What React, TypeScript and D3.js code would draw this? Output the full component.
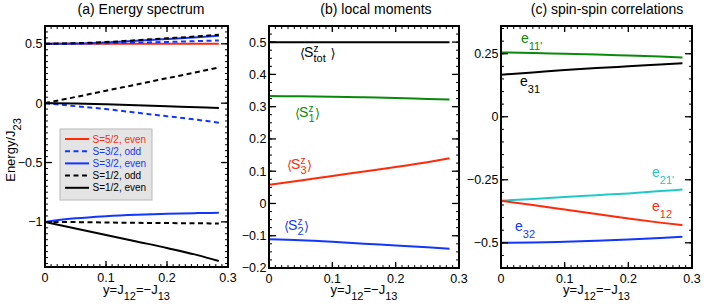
import * as d3 from "d3";
import React from "react";

// shared x grid (y = J12 = -J13)
const xs = [0, 0.05, 0.1, 0.15, 0.2, 0.25, 0.285];

// (a) energy spectrum
const s52even = [0.5, 0.5, 0.5, 0.5, 0.5, 0.5, 0.5];
const s32oddUp = [0.5, 0.501, 0.505, 0.51, 0.516, 0.523, 0.528];
const s32oddLow = [0, -0.025, -0.05, -0.08, -0.11, -0.14, -0.165];
const s32evenUp = [0.5, 0.503, 0.512, 0.525, 0.54, 0.556, 0.568];
const s32evenLow = [-1, -0.97, -0.952, -0.94, -0.932, -0.926, -0.923];
const s12oddUp = [0.5, 0.505, 0.515, 0.53, 0.546, 0.563, 0.577];
const s12oddMid = [0, 0.052, 0.105, 0.157, 0.21, 0.263, 0.3];
const s12oddLow = [-1, -1.002, -1.005, -1.008, -1.01, -1.012, -1.013];
const s12evenMid = [0, -0.003, -0.01, -0.018, -0.026, -0.034, -0.04];
const s12evenLow = [-1, -1.055, -1.11, -1.165, -1.22, -1.28, -1.33];

// (b) local moments
const sTot = [0.5, 0.5, 0.5, 0.5, 0.5, 0.5, 0.5];
const s1 = [0.333, 0.332, 0.331, 0.329, 0.327, 0.324, 0.322];
const s3 = [0.058, 0.071, 0.085, 0.099, 0.113, 0.128, 0.14];
const s2 = [-0.111, -0.114, -0.119, -0.125, -0.13, -0.136, -0.14];

// (c) spin-spin correlations
const e11p = [0.255, 0.253, 0.25, 0.247, 0.243, 0.239, 0.235];
const e31 = [0.167, 0.176, 0.185, 0.193, 0.2, 0.207, 0.212];
const e21p = [-0.333, -0.326, -0.318, -0.311, -0.304, -0.295, -0.289];
const e12 = [-0.333, -0.35, -0.368, -0.386, -0.404, -0.42, -0.43];
const e32 = [-0.5, -0.499, -0.496, -0.492, -0.487, -0.481, -0.476];

// ticks
const xTicks = [0, 0.1, 0.2, 0.3];
const yTicksA = [-1, -0.5, 0, 0.5];
const yTicksB = [-0.2, -0.1, 0, 0.1, 0.2, 0.3, 0.4, 0.5];
const yTicksC = [-0.5, -0.25, 0, 0.25];

const legendLabels = ["S=5/2, even", "S=3/2, odd", "S=3/2, even", "S=1/2, odd", "S=1/2, even"];

const RED = "#ff2a0a";
const BLUE = "#1236ff";
const GREEN = "#0a8a0a";
const CYAN = "#22c8c8";
const FONT = "'Liberation Sans', Arial, Helvetica, sans-serif";
const DASH = "5,3.5";
const MINUS = "\u2212";

const fmt = (v: number) => String(v).replace("-", MINUS);

type PanelProps = {
  left: number;
  right: number;
  top: number;
  bottom: number;
  yDomain: [number, number];
  yTicks: number[];
  yMinor: number;
  title: string;
  titleX: number;
  series: { ys: number[]; color: string; dash?: string }[];
  children?: React.ReactNode;
};

const Panel = (p: PanelProps) => {
  const x = d3.scaleLinear().domain([0, 0.3]).range([p.left, p.right]);
  const y = d3.scaleLinear().domain(p.yDomain).range([p.bottom, p.top]);
  const line = d3
    .line<number>()
    .x((_, i) => x(xs[i]))
    .y((d) => y(d))
    .curve(d3.curveMonotoneX);

  const xMinor = d3.range(0, 0.3001, 0.01);
  const yStart = Math.ceil(p.yDomain[0] / p.yMinor) * p.yMinor;
  const yMinor = d3.range(yStart, p.yDomain[1] + 1e-9, p.yMinor);
  const cx = (p.left + p.right) / 2;

  return (
    <g>
      <defs>
        <clipPath id={`clip-${p.left}`}>
          <rect x={p.left} y={p.top} width={p.right - p.left} height={p.bottom - p.top} />
        </clipPath>
      </defs>
      <text x={p.titleX} y={14} textAnchor="middle" fontSize={14}>
        {p.title}
      </text>
      <g clipPath={`url(#clip-${p.left})`}>
        {p.series.map((s, i) => (
          <path
            key={i}
            d={line(s.ys) || ""}
            fill="none"
            stroke={s.color}
            strokeWidth={2}
            strokeDasharray={s.dash}
          />
        ))}
      </g>
      {/* minor ticks */}
      {xMinor.map((v, i) => (
        <g key={`xm${i}`} stroke="#000" strokeWidth={1}>
          <line x1={x(v)} x2={x(v)} y1={p.bottom} y2={p.bottom - 3} />
          <line x1={x(v)} x2={x(v)} y1={p.top} y2={p.top + 3} />
        </g>
      ))}
      {yMinor.map((v, i) => (
        <g key={`ym${i}`} stroke="#000" strokeWidth={1}>
          <line x1={p.left} x2={p.left + 3} y1={y(v)} y2={y(v)} />
          <line x1={p.right} x2={p.right - 3} y1={y(v)} y2={y(v)} />
        </g>
      ))}
      {/* major ticks */}
      {xTicks.map((v) => (
        <g key={`x${v}`}>
          <line x1={x(v)} x2={x(v)} y1={p.bottom} y2={p.bottom - 6} stroke="#000" strokeWidth={1.3} />
          <line x1={x(v)} x2={x(v)} y1={p.top} y2={p.top + 6} stroke="#000" strokeWidth={1.3} />
          <text x={x(v)} y={p.bottom + 15} textAnchor="middle" fontSize={12.5}>
            {fmt(v)}
          </text>
        </g>
      ))}
      {p.yTicks.map((v) => (
        <g key={`y${v}`}>
          <line x1={p.left} x2={p.left + 7} y1={y(v)} y2={y(v)} stroke="#000" strokeWidth={1.3} />
          <line x1={p.right} x2={p.right - 7} y1={y(v)} y2={y(v)} stroke="#000" strokeWidth={1.3} />
          <text x={p.left - 2.5} y={y(v)} dy="0.35em" textAnchor="end" fontSize={12.5}>
            {fmt(v)}
          </text>
        </g>
      ))}
      <rect
        x={p.left}
        y={p.top}
        width={p.right - p.left}
        height={p.bottom - p.top}
        fill="none"
        stroke="#000"
        strokeWidth={2}
      />
      {/* x-axis label */}
      <text x={cx} y={294} textAnchor="middle" fontSize={13}>
        {"y=J"}
        <tspan dy={6} fontSize={11}>12</tspan>
        <tspan dy={-6}>{`=${MINUS}J`}</tspan>
        <tspan dy={6} fontSize={11}>13</tspan>
      </text>
      {p.children}
    </g>
  );
};

const Moment = ({ x, y, sub, color, subW }: { x: number; y: number; sub: string; color: string; subW: number }) => (
  <g fill={color} fontSize={14}>
    <text x={x} y={y + 1} fontSize={13} fontFamily="'DejaVu Sans', sans-serif">
      {"\u27e8"}
    </text>
    <text x={x + 4} y={y}>
      S
    </text>
    <text x={x + 13.5} y={y - 5} fontSize={10}>
      z
    </text>
    <text x={x + 13.5} y={y + 5} fontSize={11}>
      {sub}
    </text>
    <text x={x + 13.5 + subW} y={y + 1} fontSize={13} fontFamily="'DejaVu Sans', sans-serif">
      {"\u27e9"}
    </text>
  </g>
);

const Corr = ({ x, y, sub, color }: { x: number; y: number; sub: string; color: string }) => (
  <text x={x} y={y} fill={color} fontSize={14}>
    e
    <tspan dy={7} fontSize={11}>
      {sub}
    </tspan>
  </text>
);

const legendItems = [
  { color: RED, dash: undefined },
  { color: BLUE, dash: DASH },
  { color: BLUE, dash: undefined },
  { color: "#000", dash: DASH },
  { color: "#000", dash: undefined },
];

const App = () => (
  <svg
    width={706}
    height={304}
    style={{ position: "absolute", left: 0, top: 0, background: "#fff", fontFamily: FONT }}
  >
    <Panel
      left={45}
      right={228}
      top={26}
      bottom={267}
      yDomain={[-1.38, 0.65]}
      yTicks={yTicksA}
      yMinor={0.05}
      title="(a) Energy spectrum"
      titleX={141}
      series={[
        { ys: s52even, color: RED },
        { ys: s32evenUp, color: BLUE },
        { ys: s32oddUp, color: BLUE, dash: DASH },
        { ys: s12oddUp, color: "#000", dash: DASH },
        { ys: s12oddMid, color: "#000", dash: DASH },
        { ys: s32oddLow, color: BLUE, dash: DASH },
        { ys: s12evenMid, color: "#000" },
        { ys: s12oddLow, color: "#000", dash: DASH },
        { ys: s32evenLow, color: BLUE },
        { ys: s12evenLow, color: "#000" },
      ]}
    >
      <g>
        <rect x={60} y={129} width={92} height={71} fill="#e4e4e4" stroke="#b8b8b8" strokeWidth={1} />
        {legendLabels.map((l, i) => (
          <g key={l}>
            <line
              x1={65}
              x2={89}
              y1={139 + i * 12.2}
              y2={139 + i * 12.2}
              stroke={legendItems[i].color}
              strokeWidth={2}
              strokeDasharray={legendItems[i].dash}
            />
            <text x={92.5} y={139 + i * 12.2} dy="0.35em" fontSize={10} fill={legendItems[i].color}>
              {l}
            </text>
          </g>
        ))}
      </g>
    </Panel>
    <text transform="translate(15,150) rotate(-90)" textAnchor="middle" fontSize={13}>
      {"Energy/J"}
      <tspan dy={6} fontSize={11}>23</tspan>
    </text>

    <Panel
      left={269}
      right={459}
      top={26}
      bottom={268}
      yDomain={[-0.2, 0.55]}
      yTicks={yTicksB}
      yMinor={0.025}
      title="(b) local moments"
      titleX={376}
      series={[
        { ys: sTot, color: "#000" },
        { ys: s1, color: GREEN },
        { ys: s3, color: RED },
        { ys: s2, color: BLUE },
      ]}
    >
      <g>
        <Moment x={300} y={57} sub="tot" color="#000" subW={17} />
        <Moment x={295} y={117} sub="1" color={GREEN} subW={6.5} />
        <Moment x={287} y={169} sub="3" color={RED} subW={6.5} />
        <Moment x={284} y={230} sub="2" color={BLUE} subW={6.5} />
      </g>
    </Panel>

    <Panel
      left={501}
      right={692}
      top={26}
      bottom={268}
      yDomain={[-0.6, 0.36]}
      yTicks={yTicksC}
      yMinor={0.05}
      title="(c) spin-spin correlations"
      titleX={607}
      series={[
        { ys: e11p, color: GREEN },
        { ys: e31, color: "#000" },
        { ys: e21p, color: CYAN },
        { ys: e12, color: RED },
        { ys: e32, color: BLUE },
      ]}
    >
      <g>
        <Corr x={521} y={43} sub="11'" color={GREEN} />
        <Corr x={520} y={86} sub="31" color="#000" />
        <Corr x={652} y={177} sub="21'" color={CYAN} />
        <Corr x={652} y={211} sub="12" color={RED} />
        <Corr x={515} y={231} sub="32" color={BLUE} />
      </g>
    </Panel>
  </svg>
);

export default App;
